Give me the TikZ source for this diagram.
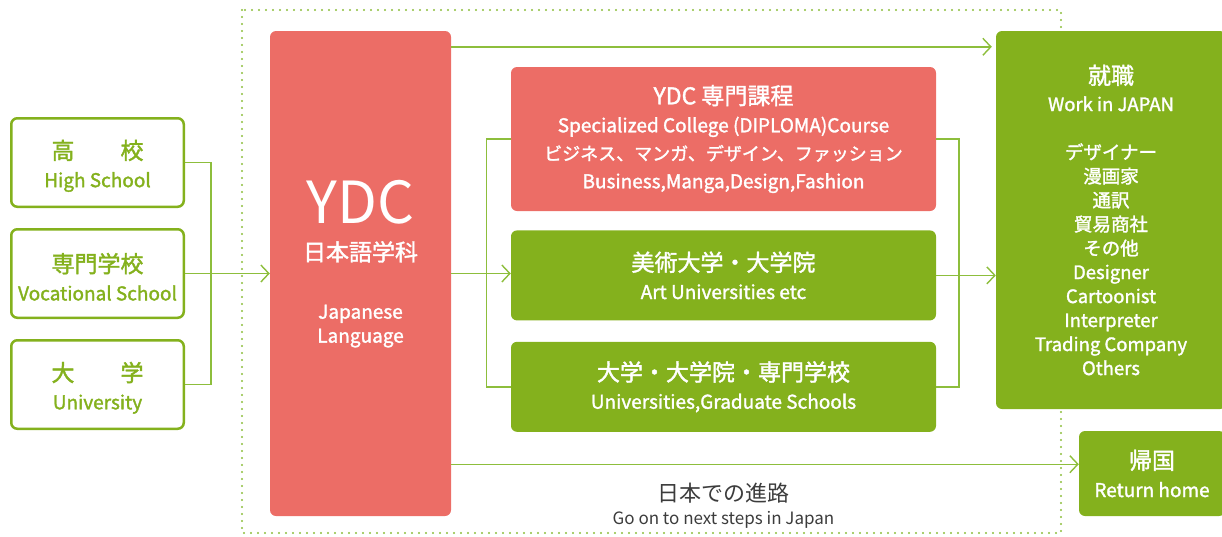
\documentclass[tikz,border=0pt]{standalone}
\usepackage{fontspec}
\setmainfont{Noto Sans CJK JP}
\newfontfamily\ydcmedium{Noto Sans CJK JP}[FakeBold=1.6]
\usepackage{xcolor}
\usepackage{tikz}
\usetikzlibrary{arrows.meta, positioning, calc}

\definecolor{ydcred}{RGB}{236,109,102}
\definecolor{ydcgreen}{RGB}{132,177,29}
\definecolor{linkgreen}{RGB}{141,190,60}
\definecolor{darktext}{RGB}{60,60,60}

\begin{document}
\begin{tikzpicture}[x=1pt, y=-1pt, node distance=20pt]
        \tikzstyle{school} = [rectangle, draw=ydcgreen, line width=2.5pt, fill=white, rounded corners=6pt, minimum width=172.5pt, minimum height=88.5pt, text=ydcgreen, align=center, font=\ydcmedium\fontsize{19}{28}\selectfont]
        \tikzstyle{redblock} = [rectangle, fill=ydcred, rounded corners=6pt, text=white, align=center, font=\ydcmedium\fontsize{19}{28}\selectfont]
        \tikzstyle{greenblock} = [rectangle, fill=ydcgreen, rounded corners=6pt, text=white, align=center, font=\ydcmedium\fontsize{19}{28}\selectfont]
        \tikzstyle{line} = [draw=linkgreen, line width=1.4pt]
        \tikzstyle{arrowline} = [line, -{Straight Barb[length=8pt, width=17pt]}]
        \tikzstyle{dotframe} = [draw=linkgreen, line width=2.2pt, line cap=round, dash pattern=on 0pt off 7pt]

        \useasboundingbox (0,0) rectangle (1222,536);
        \draw [dotframe] (242,10) rectangle (1061,533);

        % where students come from
        \node [school] (high) at (97.5,162.5) {\mbox{}\\[-2pt]{\fontsize{23}{28}\selectfont 高　　校}\\High School};
        \node [school, below=20pt of high] (voc) {\mbox{}\\[-2pt]{\fontsize{23}{28}\selectfont 専門学校}\\Vocational School};
        \node [school, below=20pt of voc] (uni) {\mbox{}\\[-2pt]{\fontsize{23}{28}\selectfont 大　　学}\\University};

        \node [redblock, minimum width=181pt, minimum height=485pt, font=\ydcmedium\fontsize{19}{24}\selectfont] (ydc) at (360.5,273.5) {{\fontsize{58}{58}\selectfont\normalfont\fontsize{58}{58}\selectfont YDC}\\[13pt]{\fontsize{23}{28}\selectfont 日本語学科}\\[34pt]Japanese\\Language\\ \mbox{}};

        % next steps
        \node [redblock, minimum width=425pt, minimum height=144pt] (course) at (723.5,139) {{\fontsize{23}{28}\selectfont YDC 専門課程}\\Specialized College (DIPLOMA)Course\\{\fontsize{18}{28}\selectfont ビジネス、マンガ、デザイン、ファッション}\\Business,Manga,Design,Fashion};
        \node [greenblock, minimum width=425pt, minimum height=90pt, below=19pt of course] (art) {{\fontsize{23}{28}\selectfont 美術大学・大学院}\\Art Universities etc};
        \node [greenblock, minimum width=425pt, minimum height=90pt, below=21pt of art] (univ) {{\fontsize{23}{28}\selectfont 大学・大学院・専門学校}\\Universities,Graduate Schools};

        \node [greenblock, minimum width=230pt, minimum height=378pt, font=\ydcmedium\fontsize{18.5}{24}\selectfont] (work) at (1111,220) {{\fontsize{23}{24}\selectfont 就職}\\[3pt]Work in JAPAN\\[24pt]デザイナー\\漫画家\\通訳\\貿易商社\\その他\\Designer\\Cartoonist\\Interpreter\\Trading Company\\Others};
        \node [greenblock, minimum width=146pt, minimum height=85pt] (home) at (1152,473.5) {{\fontsize{23}{28}\selectfont 帰国}\\Return home};

        \node [text=darktext, align=center, font=\fontsize{17}{23}\selectfont] (steps) at (723.5,506) {{\fontsize{22}{23}\selectfont 日本での進路}\\Go on to next steps in Japan};

        \coordinate (leftjoin) at (211,273.5);
        \coordinate (midjoin) at (486.5,273.5);
        \coordinate (rightjoin) at (959,273.5);
        \coordinate (toptap) at ($(ydc.north east)+(0,16)$);
        \coordinate (lowtap) at ($(ydc.south east)+(0,-52)$);

        \path [line] (high.east) -| (leftjoin) |- (uni.east);
        \path [arrowline] (voc.east) -- (ydc.west);

        \path [arrowline, shorten >=4pt] (toptap) -- (toptap -| work.west);
        \path [arrowline] (ydc.east) -- (ydc.east -| art.west);
        \path [line] (course.west) -| (midjoin) |- (univ.west);
        \path [line] (course.east) -| (rightjoin) |- (univ.east);
        \path [arrowline] (art.east) -- (art.east -| work.west);
        \path [arrowline] (lowtap) -- (lowtap -| home.west);
\end{tikzpicture}
\end{document}
